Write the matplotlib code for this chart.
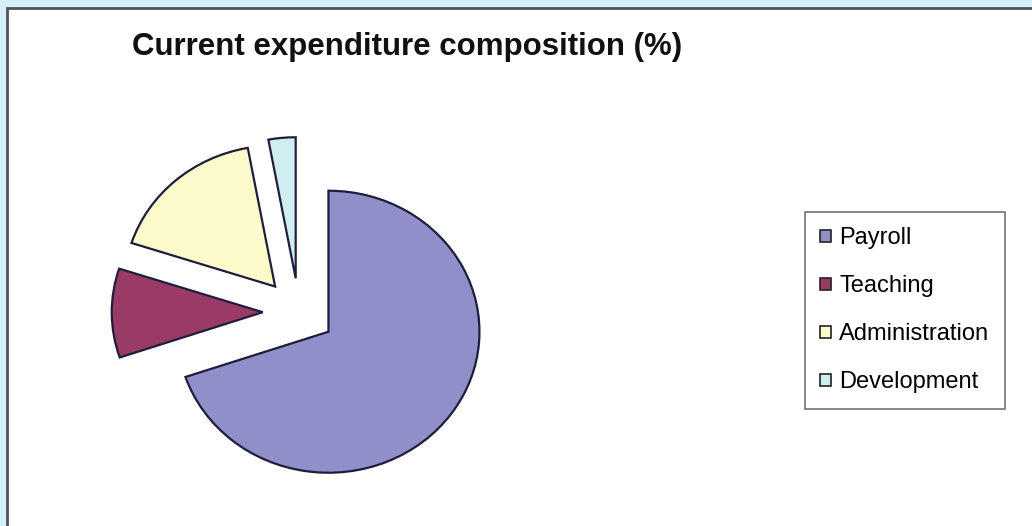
import matplotlib
matplotlib.use("Agg")
import matplotlib.pyplot as plt
from matplotlib.patches import Rectangle

# === données ===
categories = ["Payroll", "Teaching", "Administration", "Development"]
valeurs = [69.8, 10.2, 17.1, 2.9]
couleurs = ["#8f8fca", "#9a3a67", "#fdfbcc", "#d0eef0"]
titre = "Current expenditure composition (%)"

W, H = 1032, 526
plt.rcParams['font.family'] = ['Liberation Sans', 'DejaVu Sans']

fig = plt.figure(figsize=(W / 100, H / 100), dpi=100)
fig.patch.set_facecolor("#d4eefa")

# panneau blanc avec bordure grise
panneau = Rectangle((6.5 / W, -0.1), 2, 1 - 7.5 / H + 0.1, transform=fig.transFigure,
                    facecolor="white", edgecolor="#505358", linewidth=2, zorder=-5)
fig.patches.append(panneau)

fig.text(407 / W, 1 - 47 / H, titre, ha="center", va="center",
         fontsize=22.5, fontweight="bold", color="#111111", zorder=5)

# === camembert (légèrement elliptique comme l'original) ===
cx, cy = 299, 312
rx, ry = 151, 141
lim = 1.5
aw, ah = 2 * rx * lim, 2 * ry * lim
ax = fig.add_axes([(cx - aw / 2) / W, (H - cy - ah / 2) / H, aw / W, ah / H])
ax.set_zorder(2)
ax.patch.set_alpha(0)

wedges, _ = ax.pie(valeurs, colors=couleurs, startangle=90, counterclock=False,
                   explode=[0.24] * len(valeurs),
                   wedgeprops=dict(edgecolor="#1e1e3c", linewidth=1.6))
ax.set_aspect("auto")
ax.set_xlim(-lim, lim)
ax.set_ylim(-lim, lim)
ax.axis("off")

leg = fig.legend(wedges, categories, loc="upper left",
                 bbox_to_anchor=(805 / W, 1 - 212 / H),
                 fontsize=17, frameon=True, fancybox=False,
                 handlelength=0.45, handleheight=0.45, handletextpad=0.35,
                 labelspacing=1.1, borderpad=0.65, borderaxespad=0)
leg.set_zorder(3)
leg.get_frame().set_edgecolor("#505050")
leg.get_frame().set_linewidth(1.2)
for h in leg.legend_handles:
    h.set_linewidth(1.2)
    h.set_edgecolor("#222222")

fig.savefig("out.png", dpi=100, facecolor=fig.get_facecolor())
